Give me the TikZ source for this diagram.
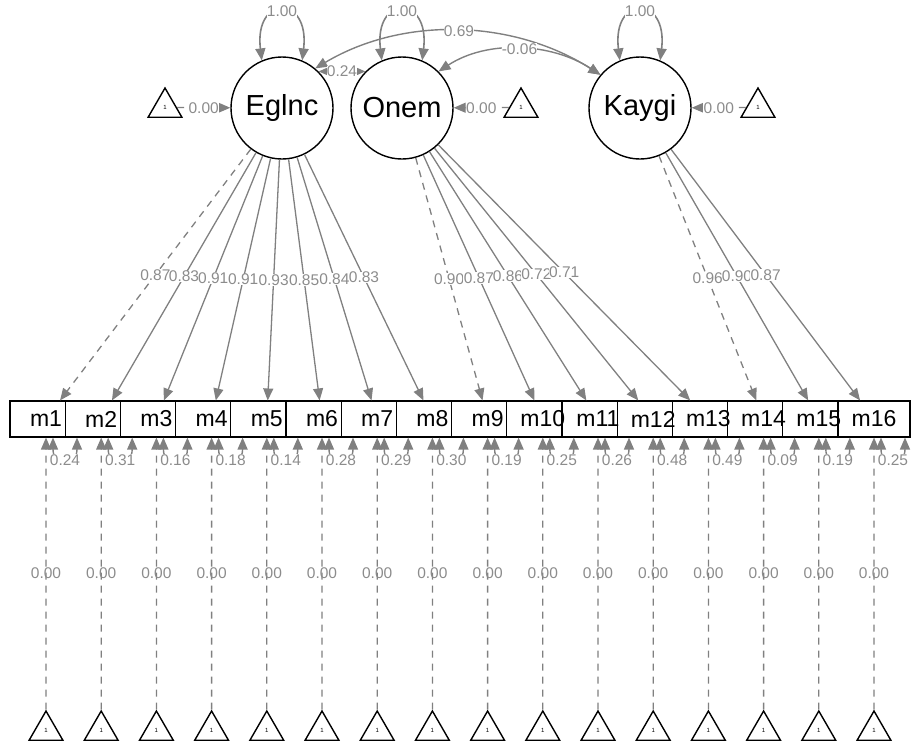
\documentclass[tikz,border=0pt]{standalone}
\usepackage{fontspec}
\setmainfont{Liberation Sans}
\usetikzlibrary{arrows.meta,shapes.geometric}
\definecolor{edgegray}{RGB}{128,128,128}
\definecolor{labgray}{RGB}{140,140,140}
\begin{document}
\begin{tikzpicture}[x=1pt,y=-1pt,
  latent/.style={circle,draw=black,line width=1.4pt,minimum size=102pt,inner sep=0pt,font=\fontsize{29}{35}\selectfont},
  mbox/.style={rectangle,draw=black,fill=white,line width=1.1pt,minimum width=72pt,minimum height=36pt,inner sep=0pt},
  mtext/.style={font=\fontsize{23}{27}\selectfont,inner sep=0pt},
  tri/.style={regular polygon,regular polygon sides=3,draw=black,line width=1.4pt,minimum size=39pt,inner sep=0pt,font=\fontsize{6}{7}\selectfont},
  edge/.style={draw=edgegray,line width=1.3pt,-{Triangle[length=12pt,width=10pt]}},
  bidir/.style={draw=edgegray,line width=1.4pt,{Triangle[length=12pt,width=10pt]}-{Triangle[length=12pt,width=10pt]}},
  elab/.style={fill=white,text=labgray,font=\fontsize{15.5}{18}\selectfont,inner sep=0.3pt},
  flab/.style={text=labgray,font=\fontsize{15.5}{18}\selectfont,inner sep=0.3pt},
  fixeddash/.style={dash pattern=on 7pt off 6pt}
]
\useasboundingbox (0,0) rectangle (911,747);

% latent variables
\node[latent] (Eglnc) at (282,108) {Eglnc};
\node[latent] (Onem) at (402,108) {Onem};
\node[latent] (Kaygi) at (640,108) {Kaygi};

% latent intercept triangles
\node[tri] (tE) at (165,107.5) {1};
\node[tri] (tO) at (521,107.5) {1};
\node[tri] (tK) at (758,107.5) {1};

% manifest boxes (drawn in order, filled)
\foreach \i in {1,...,16} {
  \node[mbox] (m\i) at ({46+(\i-1)*55.2},419) {};
}
\foreach \i in {1,...,16} {
  \node[mtext] (m\i t) at ({46+(\i-1)*55.2},419) {m\i};
}

% bottom intercept triangles
\foreach \i in {1,...,16} {
  \node[tri] (b\i) at ({46+(\i-1)*55.2},730.5) {1};
}

% latent variances
\foreach \n in {Eglnc,Onem,Kaygi} {
  \draw[bidir,line width=1.6pt] (\n.113) .. controls +(-8,-66) and +(8,-66) .. node[elab] (v\n) {1.00} (\n.67);
}

% covariances
\draw[bidir] (Eglnc.50) .. controls +(89,-53) and +(-86,-55) .. node[elab] (c1) {0.69} (Kaygi.140);
\draw[bidir] (Onem.45) .. controls +(49,-32) and +(-49,-32) .. node[elab] (c2) {-0.06} (Kaygi.140);
\draw[bidir] (Eglnc.45) -- node[elab] (c3) {0.24} (Onem.135);

% latent intercepts
\draw[edge,fixeddash] (tE) -- node[elab] (iE) {0.00} (Eglnc);
\draw[edge,fixeddash] (tO) -- node[elab] (iO) {0.00} (Onem);
\draw[edge,fixeddash] (tK) -- node[elab] (iK) {0.00} (Kaygi);

% loadings
\foreach \l/\i/\v/\d in {Eglnc/1/0.87/fixeddash, Eglnc/2/0.83/solid, Eglnc/3/0.91/solid, Eglnc/4/0.91/solid,
  Eglnc/5/0.93/solid, Eglnc/6/0.85/solid, Eglnc/7/0.84/solid, Eglnc/8/0.83/solid,
  Onem/9/0.90/fixeddash, Onem/10/0.87/solid, Onem/11/0.86/solid, Onem/12/0.72/solid, Onem/13/0.71/solid,
  Kaygi/14/0.96/fixeddash, Kaygi/15/0.90/solid, Kaygi/16/0.87/solid} {
  \draw[edge,\d] (\l) -- node[elab] (l\i) {\v} (m\i);
}

% manifest intercepts
\foreach \i in {1,...,16} {
  \draw[edge,fixeddash] (b\i) -- node[flab] (mi\i) {0.00} (m\i);
}

% residual variances
\foreach \i/\v in {1/0.24,2/0.31,3/0.16,4/0.18,5/0.14,6/0.28,7/0.29,8/0.30,
  9/0.19,10/0.25,11/0.26,12/0.48,13/0.49,14/0.09,15/0.19,16/0.25} {
  \draw[bidir] ([xshift=7pt]m\i.south) .. controls +(0,30) and +(0,30) .. node[elab] (r\i) {\v} ([xshift=31pt]m\i.south);
}
\end{tikzpicture}
\end{document}
